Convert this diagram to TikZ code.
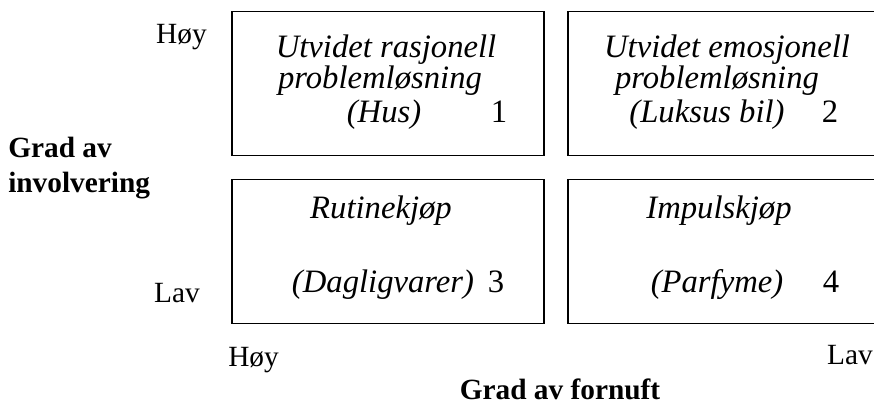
\documentclass[tikz,border=0pt]{standalone}
\usepackage{fontspec}
\setmainfont{Liberation Serif}
\usetikzlibrary{positioning}

\begin{document}
\begin{tikzpicture}[
  x=0.75pt, y=-0.75pt,
  node distance=18pt and 18pt,
  quad/.style={draw, line width=1.2pt, minimum width=234pt, minimum height=108pt, inner sep=0pt, outer sep=0pt},
  txt/.style={font=\fontsize{24.5}{28}\selectfont\itshape, inner sep=0pt, anchor=base},
  num/.style={font=\fontsize{24.5}{28}\selectfont, inner sep=0pt, anchor=base},
  lvl/.style={font=\fontsize{22}{26}\selectfont, inner sep=0pt},
  axis/.style={font=\fontsize{22}{26}\selectfont\bfseries, inner sep=0pt},
]
\useasboundingbox (0,0) rectangle (874,405);

% the four quadrants
\node[quad] (q1) at (388,83.5) {};
\node[quad, right=of q1] (q2) {};
\node[quad, below=of q1] (q3) {};
\node[quad, right=of q3] (q4) {};

% box texts
\node[txt] (t1a) at (386,57) {Utvidet rasjonell};
\node[txt] (t1b) at (380,88) {problemløsning};
\node[txt] (t1c) at (384,122) {(Hus)};
\node[num] (n1) at (499,122) {1};

\node[txt] (t2a) at (727,57) {Utvidet emosjonell};
\node[txt] (t2b) at (717,88) {problemløsning};
\node[txt] (t2c) at (707,122) {(Luksus bil)};
\node[num] (n2) at (830,122) {2};

\node[txt] (t3a) at (381,218) {Rutinekjøp};
\node[txt] (t3b) at (383,292) {(Dagligvarer)};
\node[num] (n3) at (496,292) {3};

\node[txt] (t4a) at (719,218) {Impulskjøp};
\node[txt] (t4b) at (717,292) {(Parfyme)};
\node[num] (n4) at (831,292) {4};

% axis levels
\node[lvl, anchor=base east] (yhi) at (207,43) {Høy};
\node[lvl, anchor=base east] (ylo) at (200,302) {Lav};
\node[lvl, anchor=base west] (xhi) at (228,366) {Høy};
\node[lvl, anchor=base east] (xlo) at (873,364) {Lav};

% axis titles
\node[axis, align=left, anchor=west] (ytitle) at (8,168) {Grad av\\involvering};
\node[axis, anchor=base] (xtitle) at (560,399) {Grad av fornuft};
\end{tikzpicture}
\end{document}
